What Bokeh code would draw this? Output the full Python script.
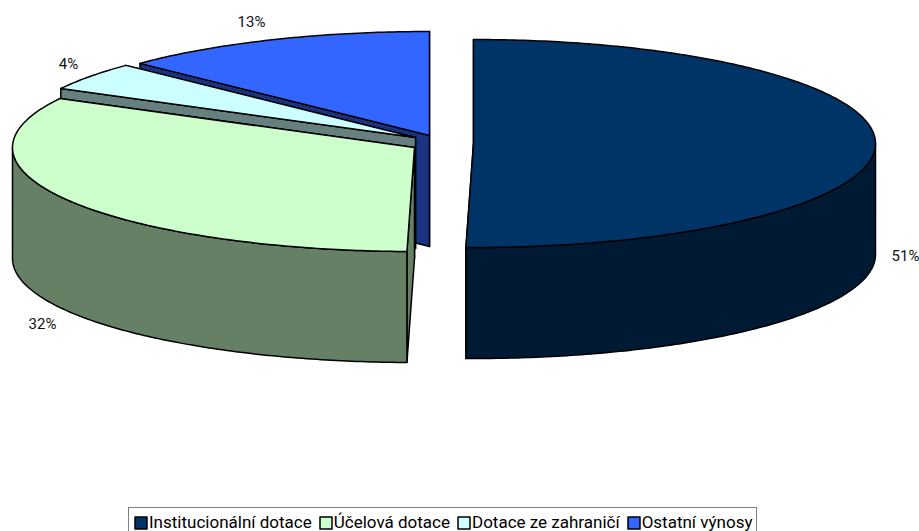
import numpy as np
from bokeh.plotting import figure
from bokeh.models import Range1d, Legend, LegendItem
from bokeh.embed import file_html
from bokeh.resources import INLINE
from bokeh.core.properties import value

categories = ["Institucionální dotace", "Účelová dotace", "Dotace ze zahraničí", "Ostatní výnosy"]
shares = [50.3, 32.5, 4.4, 12.8]
labels = ["51%", "32%", "4%", "13%"]
top_colors = ["#003366", "#CCFFCC", "#CCFFFF", "#3366FF"]
wall_colors = ["#001A33", "#668066", "#668080", "#1A3380"]
centers_x = [473, 414, 415, 429]
centers_y = [143, 147, 137, 135]
label_x = [905, 42, 68, 251]
label_y = [255, 323, 63, 21]

RX, RY, DEPTH = 402, 104, 111
FONT = "Roboto"

p = figure(width=919, height=531, output_backend="svg", toolbar_location=None,
           x_range=Range1d(0, 919), y_range=Range1d(531, 0), min_border=0,
           outline_line_color=None, background_fill_color="white")
p.axis.visible = False
p.grid.visible = False

edges = np.concatenate([[0], np.cumsum(shares)]) / np.sum(shares) * 2 * np.pi


def rim(cx, cy, a0, a1):
    t = np.linspace(a0, a1, max(int((a1 - a0) * 80), 2))
    return cx + RX * np.sin(t), cy - RY * np.cos(t)


def poly(xs, ys, color):
    return p.patch(list(xs), list(ys), fill_color=color, line_color="black", line_width=1.5,
                   line_join="round")


tops = {}
for i in [3, 2, 1, 0]:
    a0, a1 = edges[i], edges[i + 1]
    cx, cy = centers_x[i], centers_y[i]
    for a in (a1, a0):
        x, y = rim(cx, cy, a, a + 1e-6)
        ex, ey = x[0], y[0]
        poly([cx, ex, ex, cx], [cy, ey, ey + DEPTH, cy + DEPTH], wall_colors[i])
    f0, f1 = max(a0, np.pi / 2), min(a1, 1.5 * np.pi)
    if f1 > f0:
        x, y = rim(cx, cy, f0, f1)
        poly(np.concatenate([x, x[::-1]]), np.concatenate([y, y[::-1] + DEPTH]), wall_colors[i])
    x, y = rim(cx, cy, a0, a1)
    tops[i] = poly(np.concatenate([[cx], x]), np.concatenate([[cy], y]), top_colors[i])

p.text(x=label_x, y=label_y, text=labels, text_font=value(FONT), text_font_size="15px",
       text_align="center", text_baseline="middle", text_color="#111111")

legend = Legend(items=[LegendItem(label=c, renderers=[tops[i]]) for i, c in enumerate(categories)],
                orientation="horizontal", location=(128, -6), glyph_width=15, glyph_height=15,
                label_standoff=1, spacing=6, padding=4, margin=0,
                label_text_font=FONT, label_text_font_size="17px", label_text_color="black",
                border_line_color="black", border_line_width=1, background_fill_alpha=1,
                label_height=14)
p.add_layout(legend, "center")

open("out.html", "w").write(file_html(p, INLINE))
